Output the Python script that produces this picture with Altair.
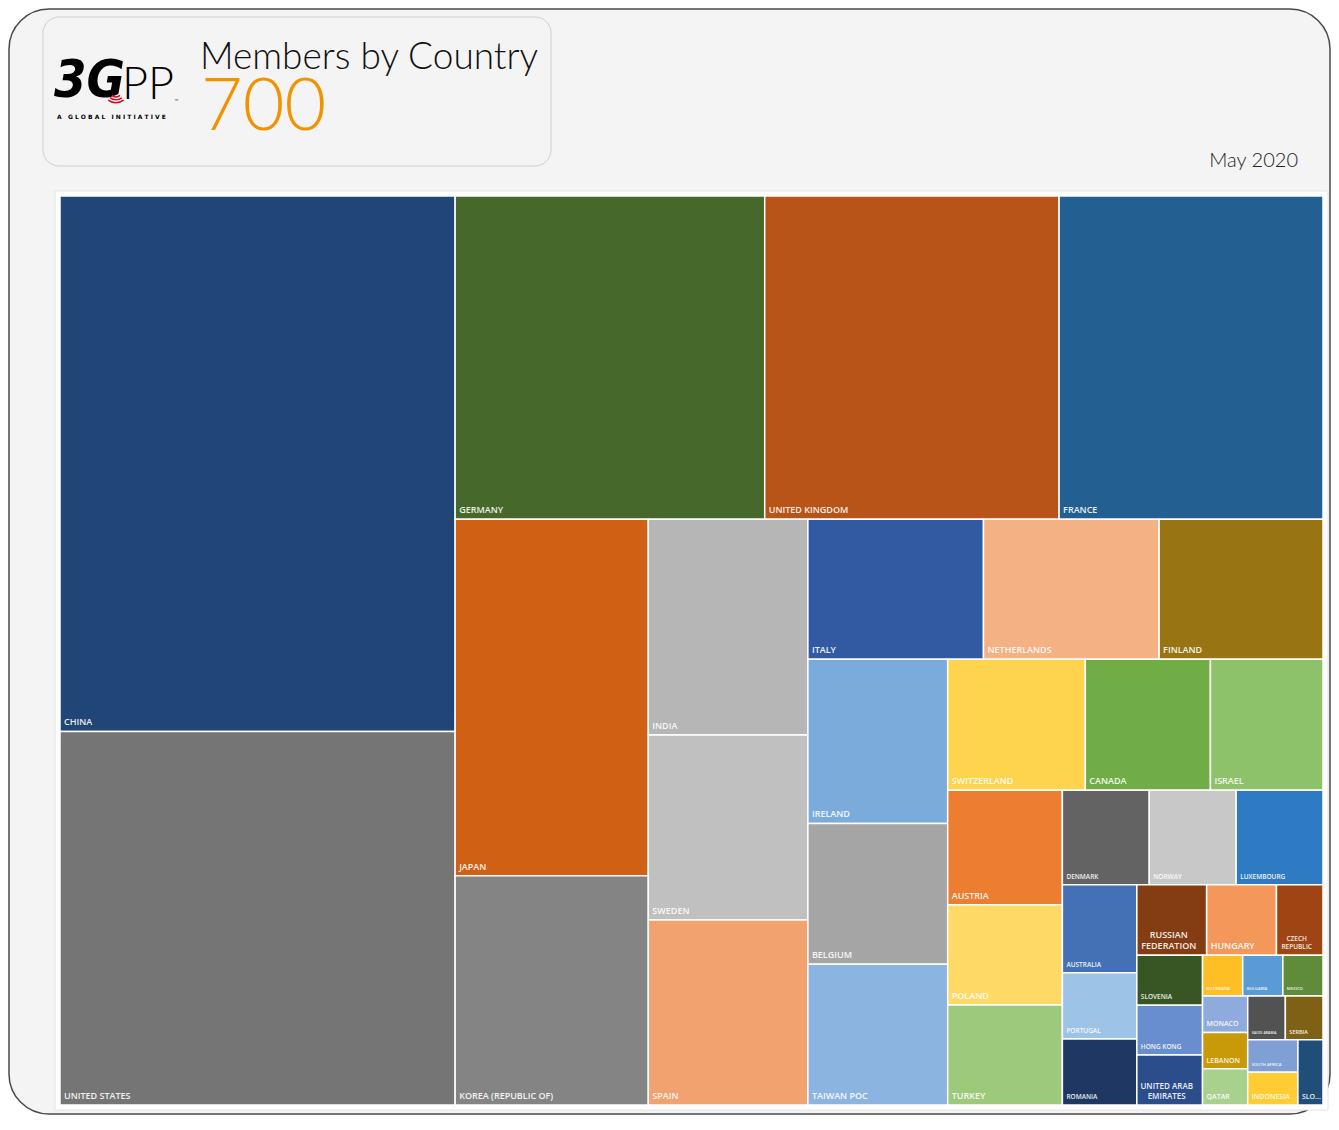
import altair as alt
import pandas as pd

# ---------------- data ----------------
COUNTRIES = [
    "China", "United States", "Germany", "United Kingdom", "France", "Japan",
    "Korea (Republic of)", "India", "Sweden", "Spain", "Italy", "Netherlands",
    "Finland", "Ireland", "Belgium", "Taiwan POC", "Switzerland", "Canada",
    "Israel", "Austria", "Poland", "Turkey", "Denmark", "Norway", "Luxembourg",
    "Australia", "Portugal", "Romania", "Russian Federation", "Hungary",
    "Czech Republic", "Slovenia", "Hong Kong", "United Arab Emirates",
    "Botswana", "Bulgaria", "Mexico", "Monaco", "Lebanon", "Qatar",
    "Saudi Arabia", "Serbia", "South Africa", "Indonesia", "Slovakia",
]
MEMBERS = [
    129, 90, 61, 58, 52, 42,
    27, 21, 18, 18, 15, 15,
    14, 14, 12, 12, 11, 10,
    9, 8, 7, 7, 5, 5, 5,
    4, 3, 3, 3, 3,
    2, 2, 2, 2,
    1, 1, 1, 1, 1, 1,
    1, 1, 1, 1, 1,
]
COLORS = [
    "#204577", "#757575", "#46682b", "#b85418", "#245f92", "#d06014",
    "#848484", "#b6b6b6", "#c0c0c0", "#f1a26f", "#325aa2", "#f4b183",
    "#997413", "#7babdb", "#a5a5a5", "#8cb4e0", "#fed44f", "#70ad47",
    "#8ec26a", "#ed7d31", "#ffd965", "#9dc97a", "#636363", "#c8c8c8", "#2e7bc4",
    "#4470b6", "#9dc3e6", "#1e3763", "#843c12", "#f4975b",
    "#9e4513", "#375623", "#698ed0", "#2b4d8c",
    "#fdbf24", "#5b9bd5", "#5e8c3a", "#8faadc", "#c89a0a", "#a9d18e",
    "#525252", "#7f6116", "#7f9fd5", "#ffcc33", "#1f4e79",
]
LABEL_TEXT = {
    "Russian Federation": "RUSSIAN\nFEDERATION",
    "Czech Republic": "CZECH\nREPUBLIC",
    "United Arab Emirates": "UNITED ARAB\nEMIRATES",
    "Slovakia": "SLO...",
}

# ---------------- styles ----------------
LABEL_SIZE = {
    "Denmark": 6.5, "Norway": 6.5, "Luxembourg": 6.5, "Australia": 6.5,
    "Portugal": 6.5, "Romania": 6.5, "Slovenia": 6.5, "Hong Kong": 6.5,
    "Czech Republic": 6.5, "Russian Federation": 9, "Hungary": 9,
    "United Arab Emirates": 8, "Monaco": 7, "Lebanon": 7, "Qatar": 7,
    "Indonesia": 7, "Slovakia": 7, "Serbia": 5.5, "Botswana": 4.2,
    "Bulgaria": 4.2, "Mexico": 4.2, "Saudi Arabia": 3.6, "South Africa": 4.2,
}
DEFAULT_SIZE = 9
FONT = "Open Sans"
HEAD_FONT = "Lato"

# treemap layout area (aspect of the drawing area; 1 unit = 1 px)
LW, LH = 1263.0, 909.0


def worst(row, side):
    s = sum(row)
    return max(max(side * side * r / (s * s), (s * s) / (side * side * r)) for r in row)


def squarify(vals, x, y, w, h):
    out = []
    i, n = 0, len(vals)
    while i < n:
        side = min(w, h)
        row = [vals[i]]
        j = i + 1
        # grow the strip while it clearly improves the worst aspect ratio
        while j < n and worst(row + [vals[j]], side) < worst(row, side) * 0.99:
            row.append(vals[j])
            j += 1
        s = sum(row)
        if w >= h:
            cw = s / h
            yy = y
            for r in row:
                rh = r / cw
                out.append((x, yy, x + cw, yy + rh))
                yy += rh
            x += cw
            w -= cw
        else:
            rh = s / w
            xx = x
            for r in row:
                rw = r / rh
                out.append((xx, y, xx + rw, y + rh))
                xx += rw
            y += rh
            h -= rh
        i = j
    return out


total = sum(MEMBERS)
scaled = [m * LW * LH / total for m in MEMBERS]
rects = squarify(scaled, 0.0, 0.0, LW, LH)

tile_rows, label_rows = [], []
for c, m, (x0, y0, x1, y1) in zip(COUNTRIES, MEMBERS, rects):
    tile_rows.append({"country": c, "members": m, "x0": x0, "y0": y0, "x1": x1, "y1": y1})
    lab = LABEL_TEXT.get(c, c.upper())
    lines = lab.split("\n")
    fs = LABEL_SIZE.get(c, DEFAULT_SIZE)
    n = len(lines)
    for k, line in enumerate(lines):
        label_rows.append({
            "country": c, "text": line, "fs": fs,
            "multi": n > 1,
            "lx": x0 if n == 1 else (x0 + x1) / 2,
            "ly": y1 - (n - 1 - k) * fs * 1.3,
        })
tiles_df = pd.DataFrame(tile_rows)
labels_df = pd.DataFrame(label_rows)

# view pixel positions (page coordinate minus 8px body margin)
xs = alt.Scale(domain=[0, LW], range=[52, 1315], nice=False, zero=False)
ys = alt.Scale(domain=[0, LH], range=[188, 1097], nice=False, zero=False)

one = pd.DataFrame({"k": [0]})

frame = alt.Chart(one).mark_rect(
    fill="#f4f4f4", stroke="#4a4a4a", strokeWidth=1.5, cornerRadius=40
).encode(x=alt.value(1), x2=alt.value(1322), y=alt.value(1), y2=alt.value(1106))

header_box = alt.Chart(one).mark_rect(
    fill="#f4f4f4", stroke="#cfcfcf", strokeWidth=1, cornerRadius=16
).encode(x=alt.value(35), x2=alt.value(543), y=alt.value(9), y2=alt.value(158))

plot_bg = alt.Chart(one).mark_rect(
    fill="#ffffff", stroke="#e4e4e4", strokeWidth=1
).encode(x=alt.value(47), x2=alt.value(1320), y=alt.value(183), y2=alt.value(1102))

title = alt.Chart(one).mark_text(
    text="Members by Country", align="left", baseline="alphabetic",
    font=HEAD_FONT, fontWeight=300, fontSize=37, color="#111111"
).encode(x=alt.value(192), y=alt.value(61))

count = alt.Chart(one).mark_text(
    text=str(total), align="left", baseline="alphabetic",
    font=HEAD_FONT, fontWeight=300, fontSize=72, color="#f39200"
).encode(x=alt.value(193), y=alt.value(122))

date = alt.Chart(one).mark_text(
    text="May 2020", align="right", baseline="alphabetic",
    font=HEAD_FONT, fontWeight=300, fontSize=20, color="#222222"
).encode(x=alt.value(1290), y=alt.value(159))

logo_3g = alt.Chart(one).mark_text(
    text="3G", align="left", baseline="alphabetic", font="DejaVu Sans Condensed",
    fontWeight="bold", fontStyle="italic", fontSize=52, color="#000000"
).encode(x=alt.value(46), y=alt.value(89))

logo_pp = alt.Chart(one).mark_text(
    text="PP", align="left", baseline="alphabetic", font=HEAD_FONT,
    fontWeight=300, fontSize=45, color="#000000"
).encode(x=alt.value(114), y=alt.value(91))

logo_tm = alt.Chart(one).mark_text(
    text="™", align="left", baseline="alphabetic", font="DejaVu Sans",
    fontSize=5, color="#000000"
).encode(x=alt.value(166), y=alt.value(95))

NB = "\u00a0"
logo_sub_text = (NB * 3).join(NB.join(list(w)) for w in ["A", "GLOBAL", "INITIATIVE"])
logo_sub = alt.Chart(one).mark_text(
    text=logo_sub_text, align="left",
    baseline="alphabetic", font="DejaVu Sans", fontWeight="bold",
    fontSize=6, color="#000000"
).encode(x=alt.value(49), y=alt.value(111))

arcs = []
for r in (6, 9, 12):
    arcs.append(
        alt.Chart(one).mark_arc(color="#e3001b").encode(
            x=alt.value(108), y=alt.value(82),
            theta=alt.value(2.5), theta2=alt.value(3.8),
            radius=alt.value(r), radius2=alt.value(r + 1.5),
        )
    )

tiles = alt.Chart(tiles_df).mark_rect(stroke="#ffffff", strokeWidth=1.5).encode(
    x=alt.X("x0:Q", scale=xs, axis=None),
    x2="x1:Q",
    y=alt.Y("y0:Q", scale=ys, axis=None),
    y2="y1:Q",
    color=alt.Color("country:N", scale=alt.Scale(domain=COUNTRIES, range=COLORS), legend=None),
    tooltip=["country:N", "members:Q"],
)

labels_single = alt.Chart(labels_df).transform_filter("!datum.multi").mark_text(
    align="left", baseline="alphabetic", dx=4, dy=-6, font=FONT, fontWeight=600,
    color="#ffffff", opacity=0.9
).encode(
    x=alt.X("lx:Q", scale=xs, axis=None),
    y=alt.Y("ly:Q", scale=ys, axis=None),
    text="text:N",
    size=alt.Size("fs:Q", scale=None, legend=None),
)

labels_multi = alt.Chart(labels_df).transform_filter("datum.multi").mark_text(
    align="center", baseline="alphabetic", dx=-3, dy=-6, font=FONT, fontWeight=600,
    color="#ffffff", opacity=0.9
).encode(
    x=alt.X("lx:Q", scale=xs, axis=None),
    y=alt.Y("ly:Q", scale=ys, axis=None),
    text="text:N",
    size=alt.Size("fs:Q", scale=None, legend=None),
)

chart = alt.layer(
    frame, header_box, plot_bg, title, count, date,
    logo_3g, logo_pp, logo_tm, logo_sub, *arcs,
    tiles, labels_single, labels_multi,
).properties(
    width=1323, height=1108,
    autosize=alt.AutoSizeParams(type="none"),
    padding=0,
    background="#ffffff",
).configure_view(strokeWidth=0)

chart.save("out.html", embed_options={"renderer": "svg", "actions": False})
